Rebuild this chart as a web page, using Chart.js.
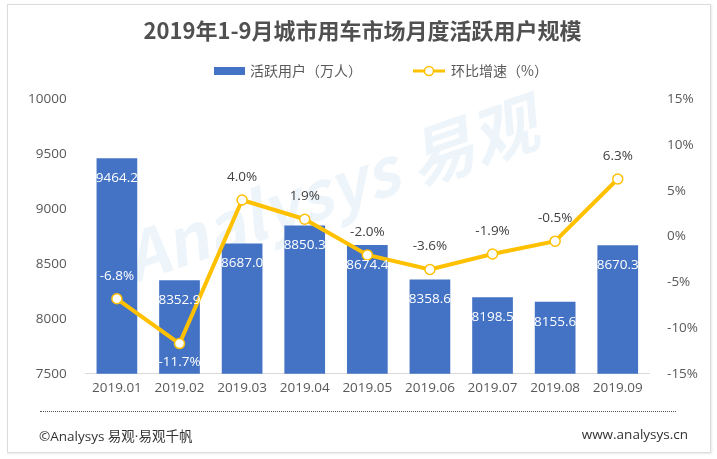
<!DOCTYPE html>
<html>
<head>
<meta charset="utf-8">
<script src="https://cdn.jsdelivr.net/npm/chart.js@4.4.0/dist/chart.umd.min.js"></script>
<style>
  body { margin: 0; background: #fff; }
  #wrap { position: relative; width: 717px; height: 459px; }
  #frame { position: absolute; left: 7px; top: 4px; width: 702px; height: 447px; border: 1px solid #dcdcdc; box-shadow: 1px 1px 2px #e8e8e8; }
  #dots { position: absolute; left: 40px; top: 411px; width: 636px; border-top: 1px dotted #555; }
  .foot { position: absolute; top: 425px; font: 13.5px "Open Sans", "Noto Sans CJK SC", sans-serif; color: #333; }
</style>
</head>
<body>
<div id="wrap">
  <canvas id="mycanvas"></canvas>
  <div id="frame"></div>
  <div id="dots"></div>
  <div class="foot" style="left:39px">©Analysys 易观·易观千帆</div>
  <div class="foot" style="right:29px">www.analysys.cn</div>
</div>
<script>
var months = ["2019.01", "2019.02", "2019.03", "2019.04", "2019.05", "2019.06", "2019.07", "2019.08", "2019.09"];
var users = [9464.2, 8352.9, 8687.0, 8850.3, 8674.4, 8358.6, 8198.5, 8155.6, 8670.3];
var growth = [-6.8, -11.7, 4.0, 1.9, -2.0, -3.6, -1.9, -0.5, 6.3];

var FONT = '"Noto Sans CJK SC", "Noto Sans", sans-serif';
var NUMFONT = '"Open Sans", "Noto Sans CJK SC", sans-serif';
var BLUE = '#4472C4';
var GOLD = '#FFC000';
var belowLabels = [1]; // growth labels put under the point

// watermark, very faint
var watermark = {
    id: 'watermark',
    beforeDatasetsDraw: function(chart) {
        var ctx = chart.ctx;
        ctx.save();
        ctx.translate(330, 190);
        ctx.rotate(-0.33);
        ctx.fillStyle = 'rgba(190, 220, 242, 0.28)';
        ctx.font = 'italic bold 66px ' + FONT;
        ctx.textAlign = 'center';
        ctx.textBaseline = 'middle';
        ctx.fillText('Analysys 易观', 0, 0);
        ctx.restore();
    }
};

// legend with bar box and line+circle
var legendBox = {
    id: 'legendBox',
    afterDraw: function(chart) {
        var ctx = chart.ctx;
        var ds = chart.data.datasets;
        var y = 71;
        ctx.save();
        ctx.font = '14px ' + FONT;
        ctx.textBaseline = 'middle';
        ctx.fillStyle = ds[1].backgroundColor;
        var x = 214;
        ctx.fillRect(x, y - 4, 31, 8);
        ctx.fillStyle = '#595959';
        ctx.fillText(ds[1].label, x + 36, y);
        x = 413;
        ctx.strokeStyle = ds[0].borderColor;
        ctx.lineWidth = 3;
        ctx.beginPath();
        ctx.moveTo(x, y);
        ctx.lineTo(x + 32, y);
        ctx.stroke();
        ctx.beginPath();
        ctx.arc(x + 16, y, 4.5, 0, Math.PI * 2);
        ctx.fillStyle = '#fff';
        ctx.fill();
        ctx.lineWidth = 1.5;
        ctx.stroke();
        ctx.fillStyle = '#595959';
        ctx.fillText(ds[0].label, x + 38, y);
        ctx.restore();
    }
};

// value labels on bars and points
var valueLabels = {
    id: 'valueLabels',
    afterDatasetsDraw: function(chart) {
        var ctx = chart.ctx;
        var bars = chart.getDatasetMeta(1).data;
        var pts = chart.getDatasetMeta(0).data;
        ctx.save();
        ctx.font = '13.5px ' + NUMFONT;
        ctx.textAlign = 'center';
        ctx.textBaseline = 'middle';
        bars.forEach(function(bar, i) {
            ctx.fillStyle = '#fff';
            ctx.fillText(users[i].toFixed(1), bar.x, bar.y + 20);
        });
        pts.forEach(function(pt, i) {
            var ly = belowLabels.indexOf(i) >= 0 ? pt.y + 19 : pt.y - 23;
            ctx.fillStyle = ly > bars[i].y ? '#fff' : '#404040';
            ctx.fillText(growth[i].toFixed(1) + '%', pt.x, ly);
        });
        ctx.restore();
    }
};

var chartdata = {
    labels: months,
    datasets: [
        {
            type: 'line',
            label: '环比增速（%）',
            data: growth,
            yAxisID: 'y1',
            borderColor: GOLD,
            borderWidth: 4,
            pointRadius: 5,
            pointBorderWidth: 1.5,
            pointBackgroundColor: '#fff',
            pointBorderColor: GOLD,
            tension: 0,
            order: 0
        },
        {
            type: 'bar',
            label: '活跃用户（万人）',
            data: users,
            yAxisID: 'y',
            backgroundColor: BLUE,
            categoryPercentage: 1,
            barPercentage: 0.65,
            order: 1
        }
    ]
};

var tickFont = { family: NUMFONT, size: 13.5 };

new Chart(document.getElementById('mycanvas'), {
    data: chartdata,
    plugins: [watermark, valueLabels, legendBox],
    options: {
        responsive: true,
        maintainAspectRatio: false,
        animation: false,
        devicePixelRatio: 1,
        layout: { padding: { left: 9, right: 1, top: 0, bottom: 57 } },
        plugins: {
            legend: { display: false },
            tooltip: { enabled: false },
            title: {
                display: true,
                text: '2019年1-9月城市用车市场月度活跃用户规模',
                color: '#505050',
                font: { family: FONT, size: 22, weight: 'bold' },
                padding: { top: 17, bottom: 56 }
            }
        },
        scales: {
            x: {
                grid: { display: false, drawTicks: false },
                border: { display: true, color: '#d9d9d9' },
                ticks: { color: '#595959', font: tickFont, padding: 6, maxRotation: 0, minRotation: 0, autoSkip: false }
            },
            y: {
                position: 'left',
                min: 7500,
                max: 10000,
                grid: { display: false, drawTicks: false },
                border: { display: false },
                ticks: {
                    stepSize: 500,
                    color: '#595959',
                    font: tickFont,
                    padding: 19,
                    callback: function(v) { return String(v); }
                }
            },
            y1: {
                position: 'right',
                min: -15,
                max: 15,
                grid: { display: false, drawTicks: false },
                border: { display: false },
                ticks: {
                    stepSize: 5,
                    color: '#595959',
                    font: tickFont,
                    padding: 18,
                    callback: function(v) { return v + '%'; }
                }
            }
        }
    }
});
</script>
</body>
</html>
